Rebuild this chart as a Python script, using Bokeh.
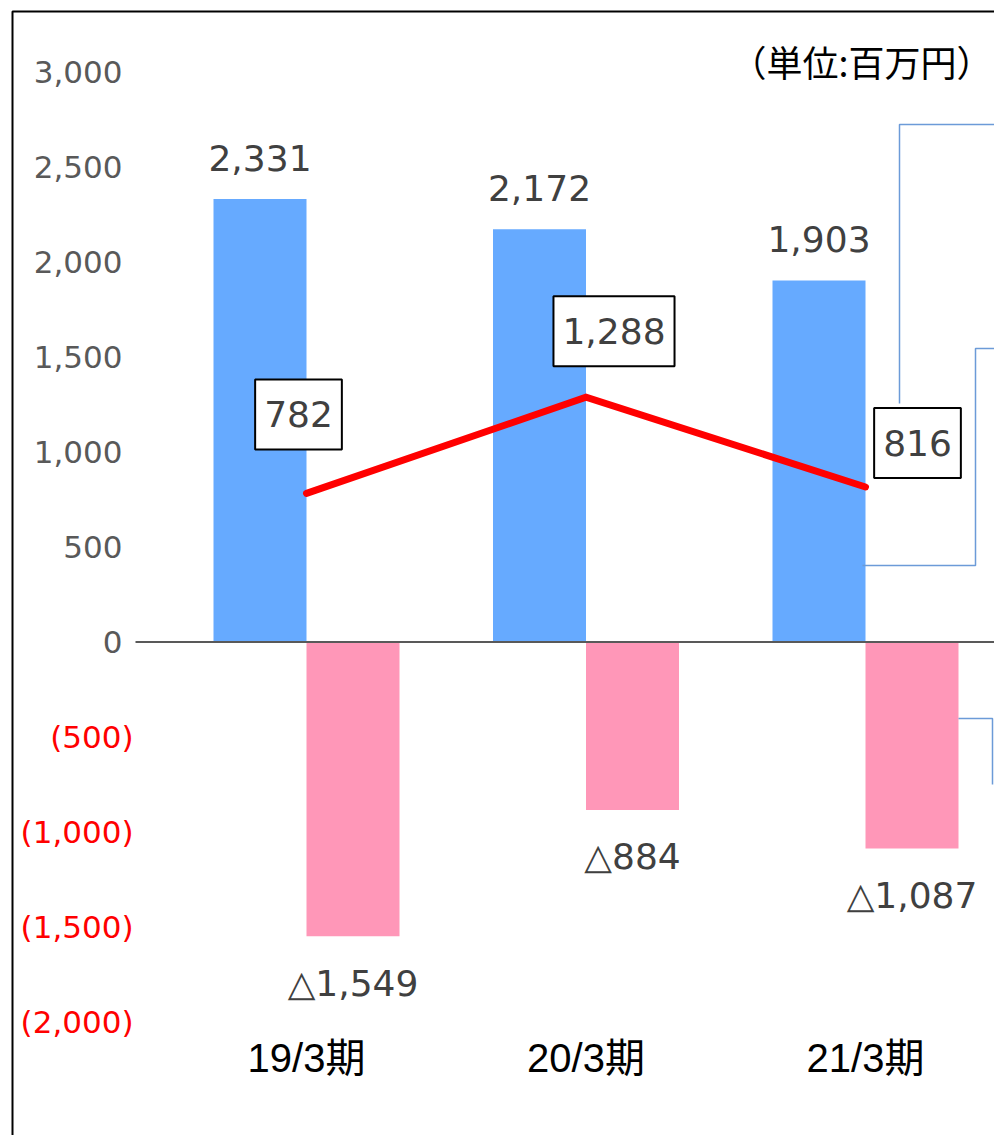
from bokeh.plotting import figure
from bokeh.models import LinearAxis, FixedTicker, NumeralTickFormatter, ColumnDataSource, Range1d
from bokeh.core.properties import value
from bokeh.embed import file_html
from bokeh.resources import INLINE

# ---- data ----
categories = ["19/3期", "20/3期", "21/3期"]
eigyo_cf = [2331, 2172, 1903]        # blue bars
toushi_cf = [-1549, -884, -1087]     # pink bars
free_cf = [782, 1288, 816]           # red line
pos_ticks = [0, 500, 1000, 1500, 2000, 2500, 3000]
neg_ticks = [-2000, -1500, -1000, -500]
unit_label = "（単位:百万円）"

# ---- layout helpers (screen px -> data) ----
W, H = 994, 1135
C0, STEP = 306.0, 279.5
Y0, K = 641.5, 0.19


def sx(px):
    return (px - C0) / STEP


def sy(py):
    return (Y0 - py) / K


x_start, x_end = sx(0), sx(W)
y_start, y_end = sy(H), sy(0)
BW = 93.0 / STEP

p = figure(width=W, height=H, x_range=Range1d(x_start, x_end), y_range=Range1d(y_start, y_end),
           output_backend="svg", toolbar_location=None, tools="",
           x_axis_location=None, y_axis_location=None, min_border=0,
           outline_line_color=None, background_fill_color="white", border_fill_color="white")
p.grid.visible = False

xs = list(range(len(categories)))

# bars
blue_src = ColumnDataSource(dict(x=[i - BW / 2 for i in xs], top=eigyo_cf,
                                 lab=[f"{v:,}" for v in eigyo_cf]))
pink_src = ColumnDataSource(dict(x=[i + BW / 2 for i in xs], top=toushi_cf,
                                 lab=["△" + f"{-v:,}" for v in toushi_cf]))
p.vbar(x="x", top="top", bottom=0, width=BW, source=blue_src, fill_color="#66AAFF", line_color=None)
p.vbar(x="x", top="top", bottom=0, width=BW, source=pink_src, fill_color="#FF97B8", line_color=None)

# zero line
p.segment(x0=[sx(135)], y0=[0], x1=[x_end], y1=[0], line_color="#595959", line_width=2)

# borders (left + top)
p.line(x=[sx(12), sx(12), x_end], y=[y_start, sy(11), sy(11)], line_color="black", line_width=2)

# bar labels
p.text(x="x", y="top", text="lab", source=blue_src, text_font=value("DejaVu Sans"),
       text_font_size="36px", text_color="#404040", text_align="center",
       text_baseline="alphabetic", y_offset=-41)
p.text(x="x", y="top", text="lab", source=pink_src, text_font=value("DejaVu Sans"),
       text_font_size="36px", text_color="#404040", text_align="center",
       text_baseline="alphabetic", y_offset=47)

# red line
p.line(x=xs, y=free_cf, line_color="#FF0000", line_width=7, line_cap="round", line_join="miter")

# leader lines (cut-off callouts at right)
p.multi_line(xs=[[sx(899), sx(899), sx(994)],
                 [sx(862), sx(975), sx(975), sx(994)],
                 [sx(958), sx(992), sx(992)]],
             ys=[[sy(403), sy(124), sy(124)],
                 [sy(565), sy(565), sy(348), sy(348)],
                 [sy(718), sy(718), sy(784)]],
             line_color="#6C9BD8", line_width=1.5)

# boxed line labels
line_src = ColumnDataSource(dict(x=xs, y=free_cf, lab=[f"{v:,}" for v in free_cf],
                                 xo=[-8, 28, 52], yo=[-79, -66, -44]))
p.text(x="x", y="y", text="lab", source=line_src, x_offset="xo", y_offset="yo",
       text_font=value("DejaVu Sans"), text_font_size="36px", text_color="#404040",
       text_align="center", text_baseline="middle",
       background_fill_color="white", border_line_color="black", border_line_width=2,
       padding=dict(left=9, right=9, top=22, bottom=22))

# unit label
p.text(x=[sx(992)], y=[sy(60)], text=[unit_label], text_font=value("Noto Sans CJK JP"),
       text_font_size="36px", text_color="black", text_align="right", text_baseline="middle")

# y axes (gray positives, red negatives)
common = dict(axis_line_color=None, major_tick_line_color=None, minor_tick_line_color=None,
              major_tick_in=0, major_tick_out=0, minor_tick_in=0, minor_tick_out=0,
              major_label_text_font="DejaVu Sans", major_label_text_font_size="31px")
ax_pos = LinearAxis(fixed_location=sx(135), ticker=FixedTicker(ticks=pos_ticks),
                    formatter=NumeralTickFormatter(format="0,0"), major_label_standoff=13,
                    major_label_text_color="#595959", **common)
ax_neg = LinearAxis(fixed_location=sx(135), ticker=FixedTicker(ticks=neg_ticks),
                    formatter=NumeralTickFormatter(format="(0,0)"), major_label_standoff=2,
                    major_label_text_color="#FF0000", **common)
p.add_layout(ax_pos, "left")
p.add_layout(ax_neg, "left")

# category axis
ax_cat = LinearAxis(fixed_location=sy(1030), ticker=FixedTicker(ticks=xs),
                    major_label_overrides={i: c for i, c in zip(xs, categories)},
                    axis_line_color=None, major_tick_line_color=None, minor_tick_line_color=None,
                    major_tick_in=0, major_tick_out=0, minor_tick_in=0, minor_tick_out=0,
                    major_label_standoff=5,
                    major_label_text_font="'Liberation Sans', 'Noto Sans CJK JP'",
                    major_label_text_font_size="40px", major_label_text_color="black")
p.add_layout(ax_cat, "below")

open("out.html", "w").write(file_html(p, INLINE))
